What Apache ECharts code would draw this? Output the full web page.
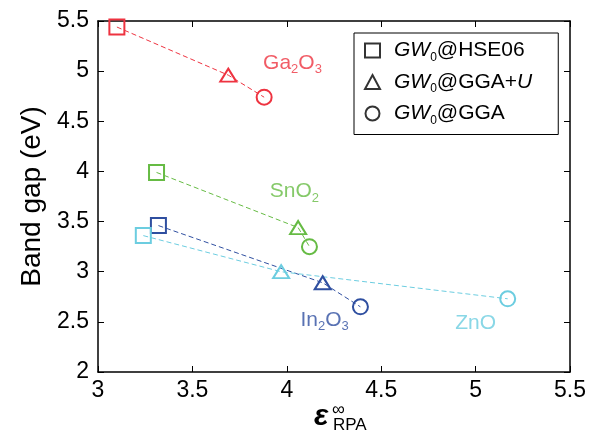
<!DOCTYPE html>
<html>
<head>
<meta charset="utf-8">
<script src="https://cdn.jsdelivr.net/npm/echarts@6/dist/echarts.min.js"></script>
<style>
  html, body { margin: 0; padding: 0; background: #fff; }
  #main { width: 604px; height: 435px; }
</style>
</head>
<body>
<div id="main"></div>
<script>
// 材料与数据
const materials = ['Ga2O3', 'SnO2', 'In2O3', 'ZnO'];
const methods = ['GW0@HSE06', 'GW0@GGA+U', 'GW0@GGA'];
const epsX = [
  [3.10, 3.69, 3.88],
  [3.31, 4.06, 4.12],
  [3.32, 4.19, 4.39],
  [3.24, 3.97, 5.17]
];
const gapY = [
  [5.44, 4.96, 4.74],
  [3.99, 3.44, 3.25],
  [3.46, 2.89, 2.65],
  [3.36, 3.00, 2.73]
];
const xTicks = [3, 3.5, 4, 4.5, 5, 5.5];
const yTicks = [2, 2.5, 3, 3.5, 4, 4.5, 5, 5.5];

// 标注文字的位置（数据坐标）
const labelAt = [[4.03, 5.08], [4.04, 3.80], [4.20, 2.52], [5.00, 2.49]];

const colors = ['#ee3340', '#66bb44', '#2f4fa0', '#6ccde0'];
const symbols = ['rect', 'triangle', 'circle'];
const symbolSizes = [15, [16, 13], 15];
const font = '"Liberation Sans", Arial, sans-serif';

function chem(name) {
  // Ga2O3 -> {n|Ga}{s|2}{n|O}{s|3}
  return name.replace(/([A-Za-z]+)(\d?)/g, (m, a, d) => '{n|' + a + '}' + (d ? '{s|' + d + '}' : ''));
}

const series = [];
materials.forEach((m, i) => {
  series.push({
    name: m,
    type: 'line',
    data: epsX[i].map((x, j) => ({
      value: [x, gapY[i][j]],
      symbol: symbols[j],
      symbolSize: symbolSizes[j]
    })),
    lineStyle: { color: colors[i], width: 1, type: [5, 3] },
    itemStyle: { color: 'transparent', borderColor: colors[i], borderWidth: 2 },
    showAllSymbol: true,
    z: 3
  });
  series.push({
    name: m + '-label',
    type: 'scatter',
    data: [labelAt[i]],
    symbolSize: 0,
    label: {
      show: true,
      position: 'inside',
      formatter: () => chem(m),
      rich: {
        n: { color: colors[i], fontSize: 21, fontFamily: font, lineHeight: 26 },
        s: { color: colors[i], fontSize: 13, fontFamily: font, lineHeight: 13, verticalAlign: 'bottom' }
      }
    },
    silent: true
  });
});
// 图例用的空系列
methods.forEach((m, j) => {
  series.push({
    name: m,
    type: 'scatter',
    data: [],
    symbol: symbols[j],
    itemStyle: { color: 'transparent', borderColor: '#000', borderWidth: 1.5 }
  });
});

const axisCommon = {
  type: 'value',
  axisLine: { show: true, onZero: false, lineStyle: { color: '#000', width: 1.5 } },
  axisTick: { show: true, inside: true, length: 6, lineStyle: { color: '#000', width: 1 } },
  splitLine: { show: false }
};

const chart = echarts.init(document.getElementById('main'));
chart.setOption({
  animation: false,
  grid: { left: 98, right: 34, top: 21, bottom: 63, outerBoundsMode: 'none', containLabel: false },
  legend: {
    data: methods.map((m, j) => ({ name: m, icon: symbols[j] })),
    orient: 'vertical',
    left: 354,
    top: 33,
    padding: [7, 26, 8, 10],
    itemGap: 8,
    itemWidth: 15,
    itemHeight: 14,
    borderColor: '#000',
    borderWidth: 1,
    selectedMode: false,
    formatter: name => {
      const rest = name.slice(4);
      if (rest === 'GGA+U') return '{i|GW}{s|0}{n|@GGA+}{i|U}';
      return '{i|GW}{s|0}{n|@' + rest + '}';
    },
    textStyle: {
      padding: [0, 0, 0, 9],
      rich: {
        i: { fontSize: 21, fontFamily: font, fontStyle: 'italic', color: '#000', lineHeight: 26 },
        n: { fontSize: 21, fontFamily: font, color: '#000', lineHeight: 26 },
        s: { fontSize: 12, fontFamily: font, color: '#000', lineHeight: 12, verticalAlign: 'bottom' }
      }
    }
  },
  xAxis: [
    Object.assign({}, axisCommon, {
      min: 3, max: 5.5, interval: 0.5,
      axisLabel: {
        color: '#000', fontSize: 23, fontFamily: font, margin: 7,
        formatter: v => xTicks.includes(v) ? String(v) : ''
      }
    }),
    Object.assign({}, axisCommon, {
      position: 'top', min: 3, max: 5.5, interval: 0.5,
      axisLabel: { show: false }
    })
  ],
  yAxis: [
    Object.assign({}, axisCommon, {
      min: 2, max: 5.5, interval: 0.5,
      axisLabel: {
        color: '#000', fontSize: 23, fontFamily: font, margin: 9,
        formatter: v => yTicks.includes(v) ? String(v) : ''
      },
      name: 'Band gap (eV)',
      nameLocation: 'middle',
      nameGap: 49,
      nameTextStyle: { fontSize: 28, fontFamily: font, color: '#000' }
    }),
    Object.assign({}, axisCommon, {
      position: 'right', min: 2, max: 5.5, interval: 0.5,
      axisLabel: { show: false }
    })
  ],
  // x 轴标题 ε∞RPA
  graphic: [
    { type: 'text', left: 314, top: 402, style: { text: 'ε', font: 'italic bold 30px ' + font, fill: '#000' } },
    { type: 'text', left: 332, top: 401, style: { text: '∞', font: '18px ' + font, fill: '#000' } },
    { type: 'text', left: 333, top: 417, style: { text: 'RPA', font: '17px ' + font, fill: '#000' } }
  ],
  series: series
});
</script>
</body>
</html>
